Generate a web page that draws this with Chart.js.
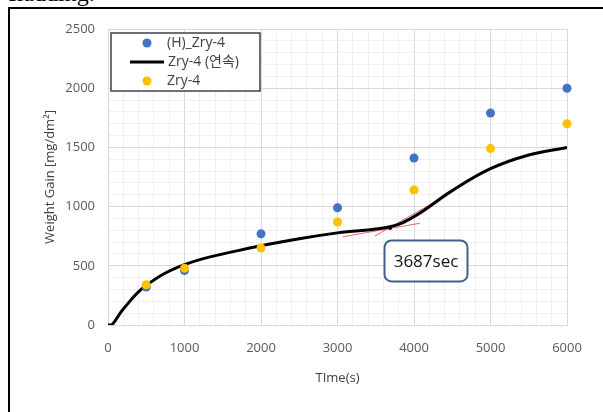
<!DOCTYPE html>
<html>
<head>
<meta charset="utf-8">
<script src="https://cdn.jsdelivr.net/npm/chart.js@4.4.1/dist/chart.umd.min.js"></script>
<style>
  html, body { margin: 0; padding: 0; background: #fff; overflow: hidden; }
  #wrap { position: relative; width: 603px; height: 412px; overflow: hidden; }
  #caption { position: absolute; left: 6px; top: -20px; font: 24px "Liberation Serif", serif; color: #000; }
  #frame { position: absolute; left: 8px; top: 7px; width: 700px; height: 500px;
           border-left: 2px solid #000; border-top: 2px solid #000; }
  #c { position: absolute; left: 0; top: 0; }
</style>
</head>
<body>
<div id="wrap">
  <div id="caption">cladding.</div>
  <div id="frame"></div>
  <canvas id="c" width="603" height="412"></canvas>
</div>
<script>
(function () {
    "use strict";

    // measured samples
    const sampleTimes = [500, 1000, 2000, 3000, 4000, 5000, 6000];
    const hydrided = [320, 460, 770, 990, 1410, 1790, 2000];   // (H)_Zry-4
    const asReceived = [340, 480, 650, 870, 1140, 1490, 1700]; // Zry-4

    // continuous curve
    const curveTimes = [0, 50, 200, 500, 1000, 1700, 2500, 3000, 3687, 4000, 4500, 5000, 5500, 6000];
    const curveGain = [0, 0, 135, 335, 510, 628, 728, 778, 830, 915, 1135, 1320, 1436, 1500];

    // transition mark + tangent lines drawn by hand on the figure
    const transitionTime = [3687];
    const transitionGain = [820];
    const tangentA = [{x: 3070, y: 745}, {x: 4080, y: 860}];
    const tangentB = [{x: 3490, y: 752}, {x: 4320, y: 1058}];
    const noteText = '3687sec';
    const noteAt = {x: 4157, y: 541};

    const seriesNames = ['(H)_Zry-4', 'Zry-4 (연속)', 'Zry-4'];
    const xTitle = 'TIme(s)';
    const yTitle = 'Weight Gain [mg/dm²]';

    const pts = (xs, ys) => xs.map((v, i) => ({x: v, y: ys[i]}));

    const FONT = '"Open Sans", "Noto Sans CJK KR", sans-serif';
    const BLUE = '#4472c4';
    const GOLD = '#ffc000';

    const overlay = {
        id: 'overlay',
        afterDatasetsDraw(chart) {
            const ctx = chart.ctx;
            const a = chart.chartArea;
            const x = chart.scales.x, y = chart.scales.y;
            ctx.save();

            // legend box
            const lx = a.left + 3, ly = a.top + 4, lw = 149, lh = 58;
            ctx.fillStyle = '#fff';
            ctx.fillRect(lx, ly, lw, lh);
            ctx.strokeStyle = '#404040';
            ctx.lineWidth = 1.5;
            ctx.strokeRect(lx, ly, lw, lh);
            ctx.font = '14px ' + FONT;
            ctx.fillStyle = '#404040';
            ctx.textBaseline = 'middle';
            const rows = [ly + 10, ly + 29, ly + 48];
            // row 1
            ctx.beginPath(); ctx.arc(lx + 36, rows[0], 4.5, 0, Math.PI * 2);
            ctx.fillStyle = BLUE; ctx.fill();
            ctx.fillStyle = '#404040'; ctx.fillText(seriesNames[0], lx + 56, rows[0]);
            // row 2
            ctx.beginPath(); ctx.moveTo(lx + 19, rows[1]); ctx.lineTo(lx + 53, rows[1]);
            ctx.strokeStyle = '#000'; ctx.lineWidth = 3; ctx.stroke();
            ctx.fillText(seriesNames[1], lx + 57, rows[1]);
            // row 3
            ctx.beginPath(); ctx.arc(lx + 36, rows[2], 4.5, 0, Math.PI * 2);
            ctx.fillStyle = GOLD; ctx.fill();
            ctx.fillStyle = '#404040'; ctx.fillText(seriesNames[2], lx + 56, rows[2]);

            // note box
            const cx = x.getPixelForValue(noteAt.x), cy = y.getPixelForValue(noteAt.y);
            const bw = 83, bh = 41, r = 7;
            const bx = cx - bw / 2, by = cy - bh / 2;
            ctx.beginPath();
            ctx.roundRect(bx, by, bw, bh, r);
            ctx.fillStyle = '#fff'; ctx.fill();
            ctx.strokeStyle = '#41608c'; ctx.lineWidth = 2; ctx.stroke();
            ctx.fillStyle = '#111';
            ctx.font = '17px ' + FONT;
            ctx.textAlign = 'center';
            ctx.fillText(noteText, cx, cy + 1);
            ctx.restore();
        }
    };

    const ctx = document.getElementById('c');
    new Chart(ctx, {
        type: 'scatter',
        data: {
            datasets: [
                {
                    label: seriesNames[2],
                    data: pts(sampleTimes, asReceived),
                    backgroundColor: GOLD, borderColor: GOLD,
                    pointRadius: 4.5, borderWidth: 0, order: 0, clip: false
                },
                {
                    label: seriesNames[0],
                    data: pts(sampleTimes, hydrided),
                    backgroundColor: BLUE, borderColor: BLUE,
                    pointRadius: 4.5, borderWidth: 0, order: 1, clip: false
                },
                {
                    label: 'mark',
                    data: pts(transitionTime, transitionGain),
                    backgroundColor: '#000', borderColor: '#000',
                    pointRadius: 2, borderWidth: 0, order: 1
                },
                {
                    label: seriesNames[1],
                    type: 'line',
                    data: pts(curveTimes, curveGain),
                    borderColor: '#000', borderWidth: 3,
                    pointRadius: 0, tension: 0.4,
                    fill: false, order: 2
                },
                {
                    label: 'tangentA', type: 'line', data: tangentA,
                    borderColor: 'rgba(215,60,60,0.75)', borderWidth: 1,
                    pointRadius: 0, fill: false, order: 3
                },
                {
                    label: 'tangentB', type: 'line', data: tangentB,
                    borderColor: 'rgba(215,60,60,0.75)', borderWidth: 1,
                    pointRadius: 0, fill: false, order: 3
                }
            ]
        },
        options: {
            responsive: false,
            animation: false,
            layout: { padding: { left: 0, top: 29, right: 36, bottom: 0 } },
            plugins: {
                legend: { display: false },
                tooltip: { enabled: false }
            },
            scales: {
                x: {
                    type: 'linear', min: 0, max: 6000,
                    afterFit: s => { s.height = 87; },
                    ticks: {
                        stepSize: 200, autoSkip: false, maxRotation: 0, padding: 15,
                        color: '#595959', font: { family: FONT, size: 13 },
                        callback: v => (v % 1000 === 0 ? v : '')
                    },
                    grid: {
                        drawTicks: false,
                        color: c => (c.tick && c.tick.value % 1000 === 0 ? '#d9d9d9' : '#efefef')
                    },
                    border: { color: '#d9d9d9' },
                    title: {
                        display: true, text: xTitle, color: '#404040',
                        font: { family: FONT, size: 13 },
                        padding: { top: 0, bottom: 26 }
                    }
                },
                y: {
                    type: 'linear', min: 0, max: 2500,
                    afterFit: s => { s.width = 108; },
                    ticks: {
                        stepSize: 100, autoSkip: false, padding: 13,
                        color: '#595959', font: { family: FONT, size: 13 },
                        callback: v => (v % 500 === 0 ? v : '')
                    },
                    grid: {
                        drawTicks: false,
                        color: c => (c.tick && c.tick.value % 500 === 0 ? '#d9d9d9' : '#efefef')
                    },
                    border: { color: '#d9d9d9' },
                    title: {
                        display: true, text: yTitle, color: '#404040',
                        font: { family: FONT, size: 13 },
                        padding: { top: 42, bottom: 0 }
                    }
                }
            }
        },
        plugins: [overlay]
    });
})();
</script>
</body>
</html>
